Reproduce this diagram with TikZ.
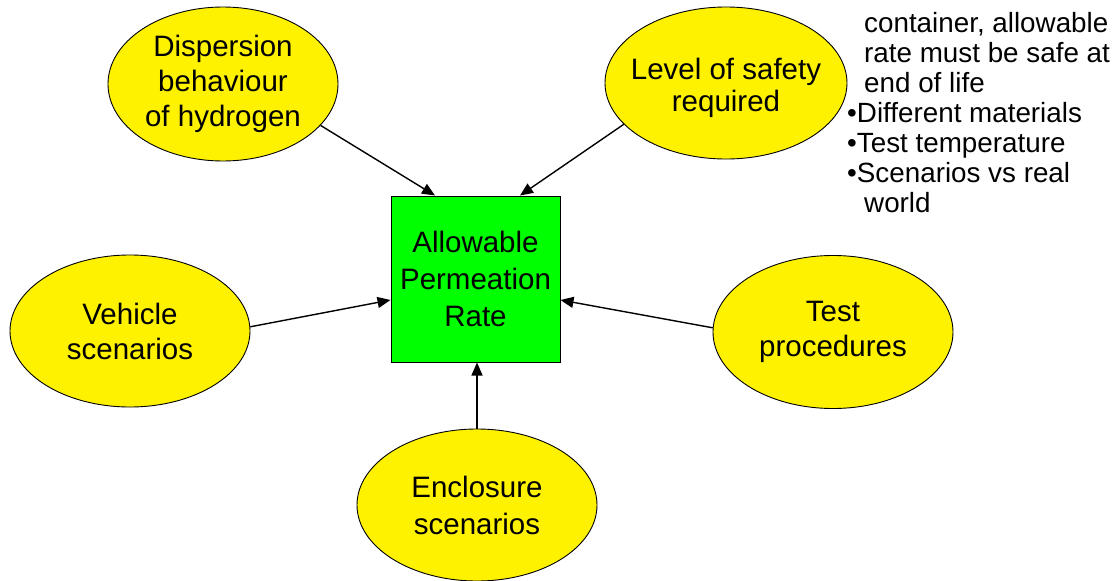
\documentclass[tikz,border=0pt]{standalone}
\usepackage{fontspec}
\setmainfont{Liberation Sans}
\usetikzlibrary{shapes.geometric,arrows.meta}
\begin{document}
\begin{tikzpicture}[x=1pt,y=-1pt,
  bubble/.style={ellipse,draw=black,line width=0.9pt,fill=yellow,inner sep=0pt,minimum width=240pt,minimum height=153pt},
  btext/.style={font=\fontsize{29.5}{35}\selectfont,align=center,inner sep=0pt},
  centrebox/.style={draw=black,line width=1pt,fill=green,inner sep=0pt,minimum width=169pt,minimum height=166pt,font=\fontsize{29.5}{37}\selectfont,align=center},
  conn/.style={line width=1.4pt,-{Triangle[length=13pt,width=11pt]}},
  note/.style={font=\fontsize{27.8}{30}\selectfont,anchor=base west,inner sep=0pt}]
\useasboundingbox (0,0) rectangle (1112,581);
% shapes
\node[bubble,minimum width=230pt,minimum height=154pt] (disp) at (223,84) {};
\node[bubble,minimum width=242pt,minimum height=152pt] (lvl) at (726,83) {};
\node[bubble,minimum width=240pt,minimum height=152pt] (veh) at (130,331) {};
\node[bubble,minimum width=240pt,minimum height=153pt] (test) at (833,332) {};
\node[bubble,minimum width=240pt,minimum height=152pt] (enc) at (477,505) {};
\node[centrebox] (apr) at (475.5,279) {Allowable\\Permeation\\Rate};
% bubble texts
\node[btext] (dispT) at (disp) {Dispersion\\behaviour\\of hydrogen};
\node[btext,font=\fontsize{29.5}{32}\selectfont] (lvlT) at ([yshift=-5pt]lvl.center) {Level of safety\\required};
\node[btext] (vehT) at (veh) {Vehicle\\scenarios};
\node[btext] (testT) at (test) {Test\\procedures};
\node[btext,font=\fontsize{29.5}{37}\selectfont] (encT) at (enc) {Enclosure\\scenarios};
% connectors
\draw[conn] (disp.-23) -- ([xshift=-40.5pt]apr.north);
\draw[conn] (lvl.-158) -- ([xshift=44.5pt]apr.north);
\draw[conn] (veh.2) -- ([yshift=-21pt]apr.west);
\draw[conn] (test.178) -- ([yshift=-21pt]apr.east);
\draw[conn] (enc.north) -- (enc.north |- apr.south);
% notes
\node[note] (n1) at (864,32.5) {container, allowable};
\node[note] (n2) at (864,62.5) {rate must be safe at};
\node[note] (n3) at (864,92.5) {end of life};
\node[note] (n4) at (847,122.5) {\textbullet Different materials};
\node[note] (n5) at (847,152.5) {\textbullet Test temperature};
\node[note] (n6) at (847,182.5) {\textbullet Scenarios vs real};
\node[note] (n7) at (864,212.5) {world};
\end{tikzpicture}
\end{document}
